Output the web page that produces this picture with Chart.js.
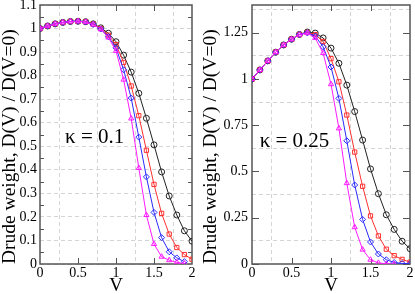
<!DOCTYPE html>
<html>
<head>
<meta charset="utf-8">
<script src="https://cdn.jsdelivr.net/npm/chart.js@4.4.1/dist/chart.umd.min.js"></script>
<style>
  body { margin: 0; background: #fff; }
  #left { position: absolute; left: 0; top: 0; }
  #right { position: absolute; left: 200px; top: 0; }
</style>
</head>
<body>
<canvas id="left" width="200" height="294"></canvas>
<canvas id="right" width="215" height="294"></canvas>
<script>
// V grid of the calculation
const vValues = [0, 0.1, 0.2, 0.3, 0.4, 0.5, 0.6, 0.7, 0.8, 0.9, 1.0, 1.1, 1.2, 1.3, 1.4, 1.5, 1.6, 1.7, 1.8, 1.9, 2.0];

// kappa = 0.1
const k01Black = [1.000, 1.011, 1.020, 1.026, 1.030, 1.031, 1.029, 1.020, 1.003, 0.980, 0.944, 0.887, 0.815, 0.725, 0.619, 0.506, 0.391, 0.289, 0.208, 0.141, 0.097];
const k01Red = [1.000, 1.011, 1.020, 1.026, 1.030, 1.031, 1.029, 1.019, 1.000, 0.972, 0.932, 0.856, 0.756, 0.630, 0.483, 0.338, 0.215, 0.127, 0.070, 0.040, 0.020];
const k01Blue = [1.000, 1.011, 1.020, 1.026, 1.030, 1.031, 1.028, 1.018, 0.998, 0.965, 0.918, 0.825, 0.705, 0.539, 0.370, 0.219, 0.112, 0.052, 0.026, 0.010, null];
const k01Magenta = [1.000, 1.011, 1.020, 1.026, 1.030, 1.031, 1.028, 1.017, 0.997, 0.962, 0.905, 0.783, 0.618, 0.408, 0.208, 0.085, 0.031, 0.016, 0.007, 0.002, null];

// kappa = 0.25
const k025Black = [1.000, 1.049, 1.098, 1.145, 1.184, 1.215, 1.241, 1.254, 1.248, 1.222, 1.167, 1.085, 0.967, 0.824, 0.670, 0.514, 0.380, 0.266, 0.187, 0.123, 0.083];
const k025Red = [1.000, 1.049, 1.098, 1.145, 1.184, 1.215, 1.240, 1.252, 1.240, 1.203, 1.110, 0.985, 0.805, 0.605, 0.420, 0.260, 0.152, 0.080, 0.045, 0.025, 0.010];
const k025Blue = [1.000, 1.049, 1.098, 1.145, 1.184, 1.215, 1.240, 1.250, 1.232, 1.174, 1.065, 0.895, 0.666, 0.427, 0.241, 0.119, 0.054, 0.023, 0.008, 0.003, 0.001];
const k025Magenta = [1.000, 1.049, 1.098, 1.145, 1.184, 1.215, 1.240, 1.248, 1.222, 1.140, 0.972, 0.733, 0.437, 0.199, 0.078, 0.023, 0.006, 0.001, 0.000, null, null];

// ticks
const xLabels = [0, 0.5, 1, 1.5, 2];
const xGrid = [0.25, 0.75, 1.25, 1.75];
const leftYLabels = [0, 0.1, 0.2, 0.3, 0.4, 0.5, 0.6, 0.7, 0.8, 0.9, 1, 1.1];
const leftYMarks = [0.05, 0.15, 0.25, 0.35, 0.45, 0.55, 0.65, 0.75, 0.85, 0.95, 1.05];
const rightYLabels = [0, 0.25, 0.5, 0.75, 1, 1.25];
const rightYGrid = [0.125, 0.375, 0.625, 0.875, 1.125, 1.375];

const yTitle = 'Drude weight, D(V) / D(V=0)';
const xTitle = 'V';

const serif = '"Liberation Serif", "DejaVu Serif", serif';
const frameColor = '#555';
const gridColor = '#d4d4d4';

function points(vals) {
  return vValues.map((v, i) => ({ x: v, y: vals[i] })).filter(p => p.y !== null);
}

function series(label, vals, color, style, order) {
  return {
    label: label,
    data: points(vals),
    borderColor: color,
    backgroundColor: 'transparent',
    borderWidth: 1,
    pointStyle: style,
    pointRadius: 3,
    pointBorderColor: color,
    pointBorderWidth: 1,
    pointBackgroundColor: 'transparent',
    tension: 0,
    order: order
  };
}

const framePlugin = {
  id: 'frame',
  beforeDatasetsDraw(chart, args, opts) {
    const { ctx, chartArea: a, scales: { x, y } } = chart;
    ctx.save();
    ctx.strokeStyle = frameColor;
    ctx.lineWidth = 1.5;
    ctx.strokeRect(a.left, a.top, a.right - a.left, a.bottom - a.top);
    ctx.lineWidth = 1;
    ctx.beginPath();
    opts.xMarks.forEach(v => {
      const px = Math.round(x.getPixelForValue(v)) + 0.5;
      ctx.moveTo(px, a.bottom); ctx.lineTo(px, a.bottom - 6);
      ctx.moveTo(px, a.top); ctx.lineTo(px, a.top + 6);
    });
    opts.yMarks.forEach(v => {
      const py = Math.round(y.getPixelForValue(v)) + 0.5;
      ctx.moveTo(a.left, py); ctx.lineTo(a.left + opts.yMarkLen, py);
      ctx.moveTo(a.right, py); ctx.lineTo(a.right - opts.yMarkLen, py);
    });
    ctx.stroke();
    ctx.restore();
  },
  afterDraw(chart, args, opts) {
    const { ctx, scales: { x, y } } = chart;
    ctx.save();
    ctx.fillStyle = '#000';
    ctx.font = '21px ' + serif;
    ctx.textBaseline = 'alphabetic';
    ctx.fillText(opts.label, x.getPixelForValue(opts.labelAt[0]), y.getPixelForValue(opts.labelAt[1]));
    ctx.restore();
  }
};

function makePanel(id, datasets, cfg) {
  const yTicks = cfg.yLabels.concat(cfg.yGrid).sort((a, b) => a - b);
  const xTicks = xLabels.concat(xGrid).sort((a, b) => a - b);
  return new Chart(document.getElementById(id), {
    type: 'line',
    data: { datasets: datasets },
    options: {
      responsive: false,
      animation: false,
      layout: { padding: { top: 5, right: cfg.padRight, left: 0, bottom: 0 } },
      plugins: {
        legend: { display: false },
        tooltip: { enabled: false },
        frame: { xMarks: [0.5, 1, 1.5], yMarks: cfg.yMarks, yMarkLen: cfg.yMarkLen, label: cfg.label, labelAt: cfg.labelAt }
      },
      scales: {
        x: {
          type: 'linear',
          min: 0,
          max: 2,
          afterBuildTicks: s => { s.ticks = xTicks.map(v => ({ value: v })); },
          afterFit: s => { s.height = 30; s.paddingLeft = 0; s.paddingRight = 0; },
          ticks: {
            autoSkip: false,
            maxRotation: 0,
            padding: 1,
            color: '#000',
            font: { family: serif, size: 14 },
            callback: v => xLabels.includes(v) ? String(v) : ''
          },
          grid: {
            drawTicks: false,
            color: c => xGrid.includes(c.tick.value) ? gridColor : 'transparent'
          },
          border: { display: false, dash: [4, 3] },
          title: {
            display: true,
            text: xTitle,
            color: '#000',
            font: { family: serif, size: 19, lineHeight: 1 },
            padding: { top: 0, bottom: -2 }
          }
        },
        y: {
          type: 'linear',
          min: 0,
          max: cfg.yMax,
          afterBuildTicks: s => { s.ticks = yTicks.map(v => ({ value: v })); },
          afterFit: s => { s.width = cfg.yWidth; s.paddingTop = 0; s.paddingBottom = 0; },
          ticks: {
            autoSkip: false,
            padding: cfg.yTickPad,
            color: '#000',
            font: { family: serif, size: 14 },
            callback: v => cfg.yLabels.includes(v) ? String(v) : ''
          },
          grid: {
            drawTicks: false,
            color: c => cfg.yGridOn.includes(c.tick.value) ? gridColor : 'transparent'
          },
          border: { display: false, dash: [4, 3] },
          title: {
            display: true,
            text: yTitle,
            align: 'start',
            color: '#000',
            font: { family: serif, size: 19.5, lineHeight: 1 },
            padding: { top: cfg.titlePad, bottom: 0 }
          }
        }
      }
    },
    plugins: [framePlugin]
  });
}

makePanel('left', [
  series('black', k01Black, '#222222', 'circle', 3),
  series('red', k01Red, '#ff3030', 'rect', 2),
  series('blue', k01Blue, '#2a2aff', 'rectRot', 1),
  series('magenta', k01Magenta, '#ff1aff', 'triangle', 0)
], {
  yMax: 1.1,
  yLabels: leftYLabels,
  yGrid: leftYMarks,
  yGridOn: leftYLabels,
  yMarks: leftYMarks,
  yMarkLen: 4,
  yWidth: 40,
  yTickPad: 3,
  titlePad: 0,
  padRight: 8,
  label: 'κ = 0.1',
  labelAt: [0.33, 0.513]
});

makePanel('right', [
  series('black', k025Black, '#222222', 'circle', 3),
  series('red', k025Red, '#ff3030', 'rect', 2),
  series('blue', k025Blue, '#2a2aff', 'rectRot', 1),
  series('magenta', k025Magenta, '#ff1aff', 'triangle', 0)
], {
  yMax: 1.4,
  yLabels: rightYLabels,
  yGrid: rightYGrid,
  yGridOn: rightYGrid,
  yMarks: rightYLabels,
  yMarkLen: 7,
  yWidth: 52,
  yTickPad: 4,
  titlePad: 1,
  padRight: 4,
  label: 'κ = 0.25',
  labelAt: [0.097, 0.632]
});
</script>
</body>
</html>
